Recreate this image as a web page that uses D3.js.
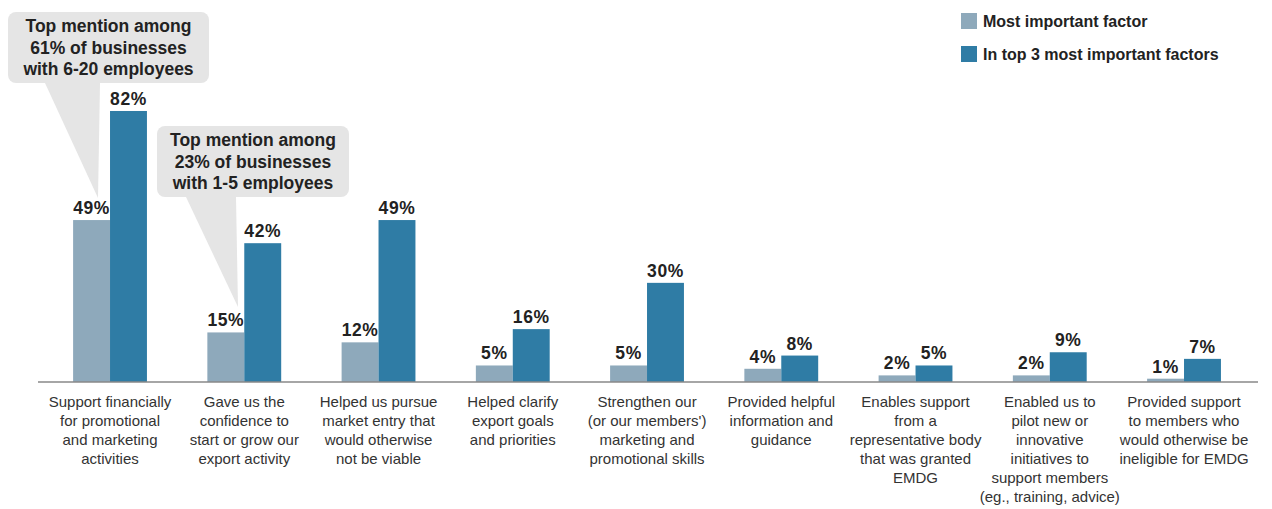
<!DOCTYPE html>
<html lang="en">
<head>
<meta charset="UTF-8">
<title>EMDG factors</title>
<script src="https://cdn.jsdelivr.net/npm/d3@7"></script>
<style>
  body { margin: 0; background: #fff; }
  svg { font-family: "Liberation Sans", Arial, sans-serif; display: block; }
</style>
</head>
<body>
<svg width="1272" height="509"></svg>
<script>
// data
var categories = [
  ["Support financially", "for promotional", "and marketing", "activities"],
  ["Gave us the", "confidence to", "start or grow our", "export activity"],
  ["Helped us pursue", "market entry that", "would otherwise", "not be viable"],
  ["Helped clarify", "export goals", "and priorities"],
  ["Strengthen our", "(or our members')", "marketing and", "promotional skills"],
  ["Provided helpful", "information and", "guidance"],
  ["Enables support", "from a", "representative body", "that was granted", "EMDG"],
  ["Enabled us to", "pilot new or", "innovative", "initiatives to", "support members", "(eg., training, advice)"],
  ["Provided support", "to members who", "would otherwise be", "ineligible for EMDG"]
];
var seriesNames = ["Most important factor", "In top 3 most important factors"];
var mostImportant = [49, 15, 12, 5, 5, 4, 2, 2, 1];
var topThree = [82, 42, 49, 16, 30, 8, 5, 9, 7];
var callouts = [
  { cat: 0, lines: ["Top mention among", "61% of businesses", "with 6-20 employees"] },
  { cat: 1, lines: ["Top mention among", "23% of businesses", "with 1-5 employees"] }
];

var colors = ["#8ea9bb", "#2f7ca5"];
var svg = d3.select("svg");
var baseY = 382;

var x0 = d3.scaleBand()
  .domain(d3.range(categories.length))
  .range([42.9, 42.9 + 9 * 134.25])
  .paddingInner(0.45)
  .paddingOuter(0.225);
var x1 = d3.scaleBand()
  .domain([0, 1])
  .range([0, x0.bandwidth()]);
var y = d3.scaleLinear()
  .domain([0, 100])
  .range([baseY, baseY - 330.5]);

var rows = categories.map(function(c, i) {
  return { i: i, vals: [mostImportant[i], topThree[i]] };
});

// callout boxes (drawn first, behind bars)
var boxes = [
  { x: 8, y: 12, w: 201, h: 71, wedge: [[45, 83], [100, 83], [98, 198]] },
  { x: 157, y: 126, w: 192, h: 71, wedge: [[186, 197], [236, 197], [238, 307]] }
];
callouts.forEach(function(c, k) {
  var b = boxes[k];
  var g = svg.append("g");
  g.append("path")
    .attr("d", d3.line()(b.wedge) + "Z")
    .attr("fill", "#e5e5e5");
  g.append("rect")
    .attr("x", b.x).attr("y", b.y)
    .attr("width", b.w).attr("height", b.h)
    .attr("rx", 8)
    .attr("fill", "#e5e5e5");
  g.selectAll("text")
    .data(c.lines)
    .enter().append("text")
    .attr("x", b.x + b.w / 2)
    .attr("y", function(d, j) { return b.y + 20 + j * 21.5; })
    .attr("text-anchor", "middle")
    .attr("font-size", 17.5)
    .attr("font-weight", "bold")
    .attr("fill", "#222")
    .text(function(d) { return d; });
});

// bars
var groups = svg.selectAll(".grp")
  .data(rows)
  .enter().append("g")
  .attr("transform", function(d) { return "translate(" + x0(d.i) + ",0)"; });

groups.selectAll("rect")
  .data(function(d) { return d.vals; })
  .enter().append("rect")
  .attr("x", function(d, j) { return x1(j); })
  .attr("y", function(d) { return y(d); })
  .attr("width", x1.bandwidth())
  .attr("height", function(d) { return baseY - y(d); })
  .attr("fill", function(d, j) { return colors[j]; });

groups.selectAll(".val")
  .data(function(d) { return d.vals; })
  .enter().append("text")
  .attr("x", function(d, j) { return x1(j) + x1.bandwidth() / 2; })
  .attr("y", function(d) { return y(d) - 6; })
  .attr("text-anchor", "middle")
  .attr("font-size", 17.5)
  .attr("font-weight", "bold")
  .attr("letter-spacing", 0.6)
  .attr("fill", "#222")
  .text(function(d) { return d + "%"; });

// axis line
svg.append("line")
  .attr("x1", 38).attr("x2", 1258)
  .attr("y1", baseY).attr("y2", baseY)
  .attr("stroke", "#888")
  .attr("stroke-width", 1.5);

// category labels
groups.each(function(d) {
  d3.select(this).append("text")
    .attr("text-anchor", "middle")
    .attr("font-size", 15)
    .attr("fill", "#333")
    .selectAll("tspan")
    .data(categories[d.i])
    .enter().append("tspan")
    .attr("x", x0.bandwidth() / 2)
    .attr("y", function(t, j) { return 407 + j * 19; })
    .text(function(t) { return t; });
});

// legend
var legend = svg.selectAll(".leg")
  .data(seriesNames)
  .enter().append("g")
  .attr("transform", function(d, i) { return "translate(961," + (13 + i * 33) + ")"; });
legend.append("rect")
  .attr("width", 16).attr("height", 16)
  .attr("fill", function(d, i) { return colors[i]; });
legend.append("text")
  .attr("x", 22).attr("y", 14)
  .attr("font-size", 16)
  .attr("font-weight", "bold")
  .attr("fill", "#222")
  .text(function(d) { return d; });
</script>
</body>
</html>
